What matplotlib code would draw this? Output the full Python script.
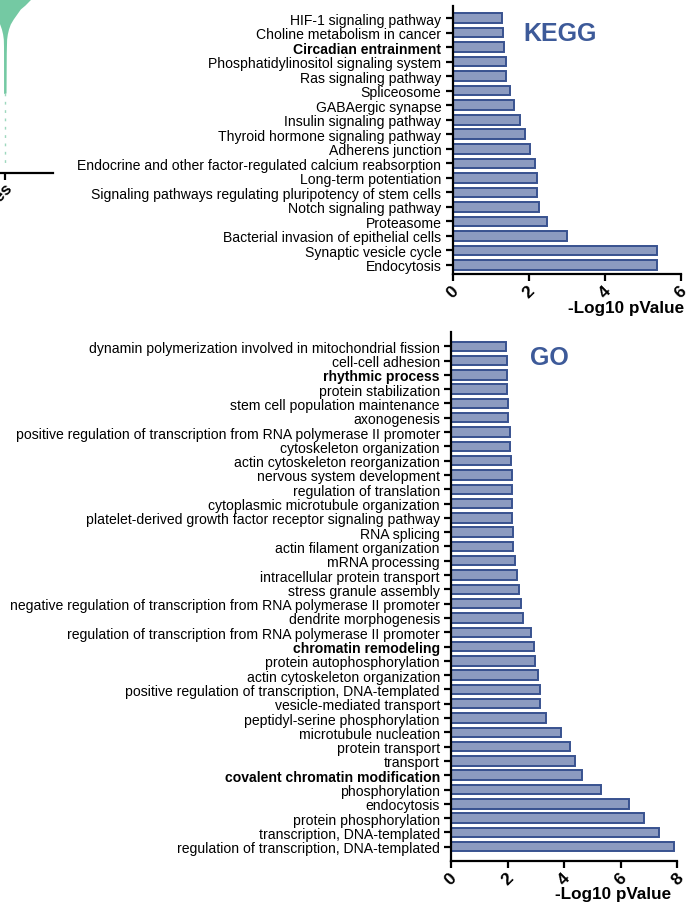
import matplotlib.pyplot as plt
import numpy as np

plt.rcParams['font.family'] = ['Liberation Sans', 'DejaVu Sans']

# KEGG terms, top to bottom
kegg_terms = [
    "HIF-1 signaling pathway",
    "Choline metabolism in cancer",
    "Circadian entrainment",
    "Phosphatidylinositol signaling system",
    "Ras signaling pathway",
    "Spliceosome",
    "GABAergic synapse",
    "Insulin signaling pathway",
    "Thyroid hormone signaling pathway",
    "Adherens junction",
    "Endocrine and other factor-regulated calcium reabsorption",
    "Long-term potentiation",
    "Signaling pathways regulating pluripotency of stem cells",
    "Notch signaling pathway",
    "Proteasome",
    "Bacterial invasion of epithelial cells",
    "Synaptic vesicle cycle",
    "Endocytosis",
]
kegg_values = [1.29, 1.32, 1.36, 1.40, 1.42, 1.50, 1.62, 1.78, 1.90,
               2.04, 2.17, 2.23, 2.23, 2.28, 2.48, 3.01, 5.37, 5.38]
kegg_bold = ["Circadian entrainment"]

# GO terms, top to bottom
go_terms = [
    "dynamin polymerization involved in mitochondrial fission",
    "cell-cell adhesion",
    "rhythmic process",
    "protein stabilization",
    "stem cell population maintenance",
    "axonogenesis",
    "positive regulation of transcription from RNA polymerase II promoter",
    "cytoskeleton organization",
    "actin cytoskeleton reorganization",
    "nervous system development",
    "regulation of translation",
    "cytoplasmic microtubule organization",
    "platelet-derived growth factor receptor signaling pathway",
    "RNA splicing",
    "actin filament organization",
    "mRNA processing",
    "intracellular protein transport",
    "stress granule assembly",
    "negative regulation of transcription from RNA polymerase II promoter",
    "dendrite morphogenesis",
    "regulation of transcription from RNA polymerase II promoter",
    "chromatin remodeling",
    "protein autophosphorylation",
    "actin cytoskeleton organization",
    "positive regulation of transcription, DNA-templated",
    "vesicle-mediated transport",
    "peptidyl-serine phosphorylation",
    "microtubule nucleation",
    "protein transport",
    "transport",
    "covalent chromatin modification",
    "phosphorylation",
    "endocytosis",
    "protein phosphorylation",
    "transcription, DNA-templated",
    "regulation of transcription, DNA-templated",
]
go_values = [1.93, 1.98, 1.98, 1.98, 2.03, 2.03, 2.10, 2.10, 2.11, 2.14,
             2.14, 2.17, 2.17, 2.18, 2.19, 2.27, 2.34, 2.40, 2.46, 2.53,
             2.82, 2.92, 2.96, 3.06, 3.14, 3.16, 3.35, 3.89, 4.22, 4.39,
             4.64, 5.31, 6.31, 6.83, 7.35, 7.90]
go_bold = ["rhythmic process", "chromatin remodeling", "covalent chromatin modification"]

# cropped violin fragment at top left (half width vs height)
frag_height = [174, 168, 164, 159, 154, 149, 144, 139, 134, 120, 100, 80]
frag_halfw = [0.22, 0.17, 0.13, 0.10, 0.07, 0.045, 0.03, 0.02, 0.014, 0.011, 0.010, 0.009]

bar_face = '#8C9BC0'
bar_edge = '#38528F'
title_col = '#3D5A99'

W, H = 688, 903
fig = plt.figure(figsize=(W / 100, H / 100), dpi=100)


def px_axes(x0, y0, x1, y1):
    # pixel box (top-left origin) -> figure axes
    return fig.add_axes([x0 / W, 1 - y1 / H, (x1 - x0) / W, (y1 - y0) / H])


def bar_panel(ax, terms, values, bold, xmax, ylim):
    n = len(terms)
    ypos = np.arange(n)[::-1]
    ax.barh(ypos, values, height=0.66, color=bar_face, edgecolor=bar_edge, linewidth=1.4)
    ax.set_xlim(0, xmax)
    ax.set_ylim(*ylim)
    ax.set_yticks(ypos)
    ax.set_yticklabels(terms, fontsize=10.1)
    for lab in ax.get_yticklabels():
        if lab.get_text() in bold:
            lab.set_fontweight('bold')
    ax.set_xticks(np.arange(0, xmax + 1, 2))
    ax.set_xticklabels([str(v) for v in range(0, xmax + 1, 2)], rotation=45,
                       ha='center', va='top', fontsize=12.5, fontweight='bold')
    for s in ['top', 'right']:
        ax.spines[s].set_visible(False)
    for s in ['left', 'bottom']:
        ax.spines[s].set_linewidth(1.6)
    ax.tick_params(axis='both', length=5, width=1.6, pad=3)
    ax.tick_params(axis='x', pad=1.5)


ax1 = px_axes(452.5, 7, 680.5, 275)
bar_panel(ax1, kegg_terms, kegg_values, kegg_bold, 6, (-0.62, 17.83))
fig.text(560.5 / W, 1 - 34 / H, 'KEGG', fontsize=18, fontweight='bold', color=title_col,
         ha='center', va='center')
fig.text(684 / W, 1 - 309 / H, '-Log10 pValue', fontsize=12.3, fontweight='bold',
         ha='right', va='center')

ax2 = px_axes(451, 333, 677.3, 861.7)
bar_panel(ax2, go_terms, go_values, go_bold, 8, (-0.98, 36.0))
fig.text(549 / W, 1 - 358 / H, 'GO', fontsize=18, fontweight='bold', color=title_col,
         ha='center', va='center')
fig.text(671 / W, 1 - 895 / H, '-Log10 pValue', fontsize=12.3, fontweight='bold',
         ha='right', va='center')

# cropped fragment of a neighbouring violin panel
ax0 = px_axes(-65, -50, 53, 174)
ax0.set_xlim(-0.593, 0.407)
ax0.set_ylim(0, 224)
fh = np.array(frag_height)
fw = np.array(frag_halfw)
ax0.fill_betweenx(fh, -fw, fw, color='#74C9A3', linewidth=0)
ax0.plot([0, 0], [174, 80], color='#74C9A3', linewidth=1.2)
ax0.plot([0, 0], [80, 8], color='#9ED8BE', linewidth=1.0, linestyle=(0, (2, 4)))
for s in ['top', 'right', 'left']:
    ax0.spines[s].set_visible(False)
ax0.spines['bottom'].set_linewidth(1.6)
ax0.set_yticks([])
ax0.set_xticks([0])
ax0.set_xticklabels(['Genes'], rotation=45, ha='right', va='top',
                    rotation_mode='anchor', fontsize=12, fontweight='bold')
ax0.tick_params(axis='x', length=5, width=1.6, pad=0)
ax0.patch.set_alpha(0)

fig.savefig('out.png', dpi=100)
